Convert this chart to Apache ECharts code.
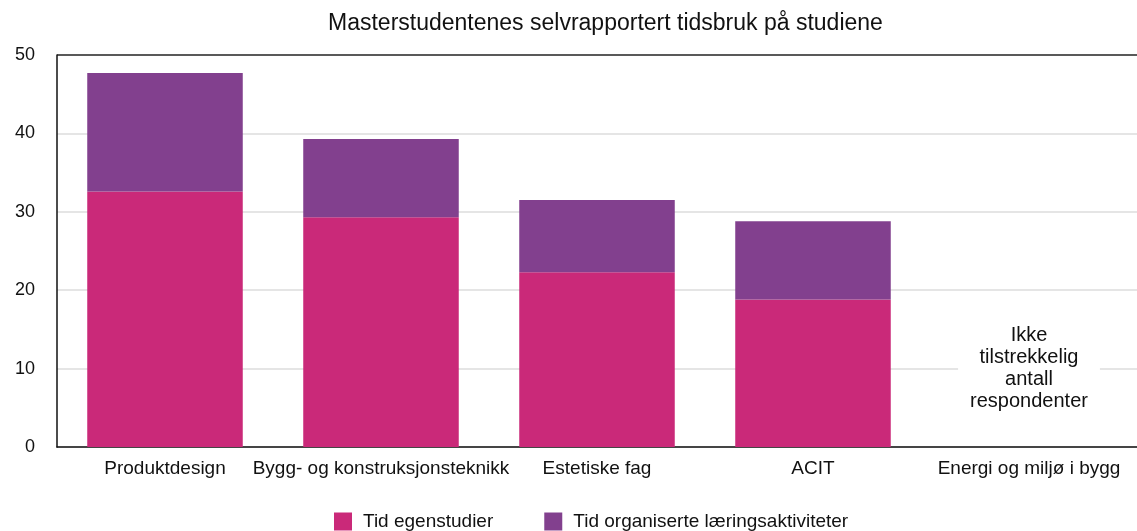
<!DOCTYPE html>
<html>
<head>
<meta charset="utf-8">
<script src="https://cdn.jsdelivr.net/npm/echarts@6/dist/echarts.min.js"></script>
<style>html,body{margin:0;padding:0;background:#fff;}#c{width:1137px;height:531px;}</style>
</head>
<body>
<div id="c"></div>
<script>
const titleText = 'Masterstudentenes selvrapportert tidsbruk på studiene';
const categories = ['Produktdesign', 'Bygg- og konstruksjonsteknikk', 'Estetiske fag', 'ACIT', 'Energi og miljø i bygg'];
const seriesNames = ['Tid egenstudier', 'Tid organiserte læringsaktiviteter'];
const egenstudier = [32.6, 29.3, 22.3, 18.8, null];
const organiserte = [15.1, 10.0, 9.2, 10.0, null];
const noteText = 'Ikke\ntilstrekkelig\nantall\nrespondenter';
const noteCategory = 'Energi og miljø i bygg';
const noteValue = 10;

const font = '"Liberation Sans", Arial, Helvetica, sans-serif';
const chart = echarts.init(document.getElementById('c'));
chart.setOption({
  animation: false,
  textStyle: { fontFamily: font },
  title: {
    text: titleText, left: 323, top: 7,
    textStyle: { fontFamily: font, fontSize: 23, fontWeight: 'normal', color: '#111' }
  },
  legend: {
    top: 512, left: 334, padding: 0, itemWidth: 18, itemHeight: 18, itemGap: 51,
    icon: 'rect',
    textStyle: { fontFamily: font, fontSize: 19, color: '#111', padding: [0, 0, 0, 6] }
  },
  grid: { left: 57, right: 0, top: 55, bottom: 84, containLabel: false },
  xAxis: {
    type: 'category', data: categories,
    axisLine: { lineStyle: { color: '#111', width: 1.5 } },
    axisTick: { show: false },
    axisLabel: { fontFamily: font, fontSize: 19, color: '#111', margin: 12, interval: 0 }
  },
  yAxis: {
    type: 'value', min: 0, max: 50, interval: 10,
    axisLine: { show: true, lineStyle: { color: '#111', width: 1.5 } },
    axisLabel: { fontFamily: font, fontSize: 18, color: '#111', margin: 22 },
    splitLine: { lineStyle: { color: ['#ddd', '#ddd', '#ddd', '#ddd', '#ddd', '#222'], width: 1.5 } }
  },
  series: [
    {
      name: seriesNames[0], type: 'bar', stack: 'a', data: egenstudier,
      barCategoryGap: '28%',
      itemStyle: { color: '#CA2979' },
      markPoint: {
        symbol: 'rect', symbolSize: 1, itemStyle: { color: 'rgba(0,0,0,0)' },
        data: [{ coord: [noteCategory, noteValue], value: noteText }],
        label: {
          show: true, position: 'inside', formatter: noteText,
          fontFamily: font, fontSize: 20, lineHeight: 22, color: '#111',
          backgroundColor: '#fff', padding: [4, 12], align: 'center', verticalAlign: 'middle'
        }
      }
    },
    {
      name: seriesNames[1], type: 'bar', stack: 'a', data: organiserte,
      barCategoryGap: '28%',
      itemStyle: { color: '#82408E' }
    }
  ]
});
</script>
</body>
</html>
